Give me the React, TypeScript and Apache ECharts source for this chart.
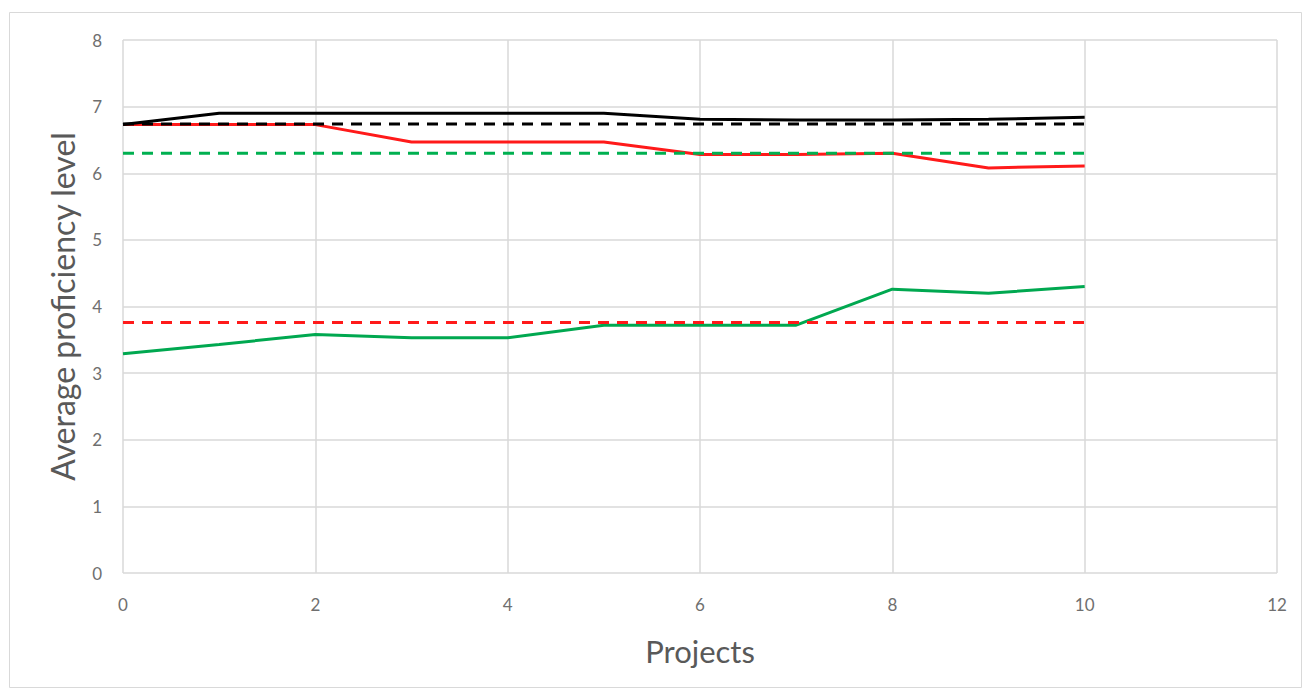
import React, { useEffect, useRef } from "react";
import * as echarts from "echarts";

const projects = [0, 1, 2, 3, 4, 5, 6, 7, 8, 9, 10];
const blackSolid = [6.73, 6.9, 6.9, 6.9, 6.9, 6.9, 6.81, 6.8, 6.8, 6.81, 6.84];
const redSolid = [6.73, 6.73, 6.73, 6.47, 6.47, 6.47, 6.28, 6.28, 6.3, 6.08, 6.11];
const greenSolid = [3.29, 3.43, 3.58, 3.53, 3.53, 3.72, 3.72, 3.72, 4.26, 4.2, 4.3];
const blackDashedLevel = 6.74;
const greenDashedLevel = 6.3;
const redDashedLevel = 3.76;

const xTicks = { min: 0, max: 12, interval: 2 };
const yTicks = { min: 0, max: 8, interval: 1 };

const FONT = "Lato";

export default function App() {
  const ref = useRef<HTMLDivElement>(null);
  useEffect(() => {
    const chart = echarts.init(ref.current!, null, { renderer: "svg" });
    const pairs = (vals: number[]) => projects.map((x, i) => [x, vals[i]]);
    const flat = (v: number) => projects.map((x) => [x, v]);
    const solid = (name: string, color: string, vals: number[], z: number) => ({
      name,
      type: "line",
      data: pairs(vals),
      showSymbol: false,
      symbol: "none",
      lineStyle: { color, width: 3 },
      z,
    });
    const dashed = (name: string, color: string, v: number, z: number) => ({
      name,
      type: "line",
      data: flat(v),
      showSymbol: false,
      symbol: "none",
      lineStyle: { color, width: 3, type: [11, 8] },
      z,
    });
    chart.setOption({
      animation: false,
      backgroundColor: "#ffffff",
      textStyle: { fontFamily: FONT },
      graphic: [
        {
          type: "rect",
          shape: { x: 9.5, y: 12.5, width: 1292, height: 675 },
          style: { fill: "none", stroke: "#d9d9d9", lineWidth: 1 },
          silent: true,
        },
      ],
      grid: { left: 123, right: 29, top: 40, bottom: 118 },
      xAxis: {
        type: "value",
        min: xTicks.min,
        max: xTicks.max,
        interval: xTicks.interval,
        name: "Projects",
        nameLocation: "middle",
        nameGap: 62,
        nameTextStyle: { fontSize: 31, color: "#595959", fontFamily: FONT },
        axisLine: { show: false },
        axisTick: { show: false },
        axisLabel: { fontSize: 17, color: "#6f6f6f", margin: 23, fontFamily: FONT },
        splitLine: { show: true, lineStyle: { color: "#d9d9d9", width: 1.5 } },
      },
      yAxis: {
        type: "value",
        min: yTicks.min,
        max: yTicks.max,
        interval: yTicks.interval,
        name: "Average proficiency level",
        nameLocation: "middle",
        nameGap: 45,
        nameTextStyle: { fontSize: 32, color: "#595959", fontFamily: FONT },
        axisLine: { show: false },
        axisTick: { show: false },
        axisLabel: { fontSize: 17, color: "#6f6f6f", margin: 21, fontFamily: FONT },
        splitLine: { show: true, lineStyle: { color: "#d9d9d9", width: 1.5 } },
      },
      series: [
        solid("Red", "#ff1a1a", redSolid, 2),
        solid("Green", "#00a850", greenSolid, 3),
        solid("Black", "#000000", blackSolid, 4),
        dashed("Black target", "#000000", blackDashedLevel, 5),
        dashed("Green target", "#00b050", greenDashedLevel, 5),
        dashed("Red target", "#ff1a1a", redDashedLevel, 5),
      ],
    });
    return () => chart.dispose();
  }, []);
  return (
    <div
      ref={ref}
      style={{ position: "fixed", left: 0, top: 0, width: 1306, height: 691 }}
    />
  );
}
